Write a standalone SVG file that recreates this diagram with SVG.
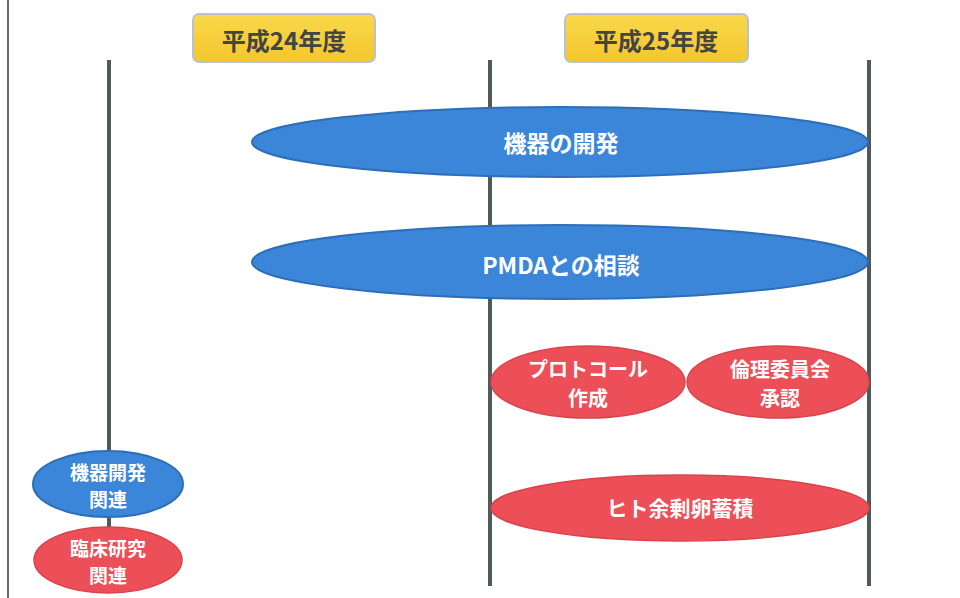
<svg xmlns="http://www.w3.org/2000/svg" width="960" height="598" viewBox="0 0 960 598">
<defs>
<linearGradient id="gy" x1="0" y1="0" x2="0" y2="1">
<stop offset="0" stop-color="#f9d84a"/>
<stop offset="1" stop-color="#f4c62e"/>
</linearGradient>
<style>
.t{font-family:"Noto Sans CJK JP","Liberation Sans",sans-serif;font-weight:bold;text-anchor:middle;dominant-baseline:central}
.w{fill:#ffffff}
.box{fill:url(#gy);stroke:#b9c3cf;stroke-width:2}
.blue{fill:#3b86d8;stroke:#2c6fb8;stroke-width:2}
.red{fill:#ec4f57;stroke:#d9434b;stroke-width:1.5}
.ln{stroke:#505a58;stroke-width:4}
</style>
</defs>
<rect width="960" height="598" fill="#ffffff"/>
<g id="connectors">
<line x1="8" y1="0" x2="8" y2="598" stroke="#6a6a6a" stroke-width="2"/>
<line class="ln" x1="109" y1="60" x2="109" y2="540"/>
<line class="ln" x1="490" y1="60" x2="490" y2="586"/>
<line class="ln" x1="869" y1="60" x2="869" y2="586"/>
</g>
<g id="year24">
<rect class="box" x="193" y="14" width="182" height="48" rx="6"/>
<text class="t" x="284" y="39" font-size="24" fill="#444444">平成24年度</text>
</g>
<g id="year25">
<rect class="box" x="565" y="14" width="183" height="48" rx="6"/>
<text class="t" x="656" y="39" font-size="24" fill="#444444">平成25年度</text>
</g>
<g id="kiki">
<ellipse class="blue" cx="560" cy="142" rx="308" ry="35"/>
<text class="t w" x="561" y="142" font-size="23">機器の開発</text>
</g>
<g id="pmda">
<ellipse class="blue" cx="560" cy="262" rx="308" ry="37"/>
<text class="t w" x="561" y="264" font-size="23">PMDAとの相談</text>
</g>
<g id="protocol">
<ellipse class="red" cx="588" cy="382" rx="97" ry="36"/>
<text class="t w" x="588" y="368" font-size="20">プロトコール</text>
<text class="t w" x="588" y="397" font-size="20">作成</text>
</g>
<g id="rinri">
<ellipse class="red" cx="778" cy="382" rx="91" ry="36"/>
<text class="t w" x="780" y="368" font-size="20">倫理委員会</text>
<text class="t w" x="780" y="397" font-size="20">承認</text>
</g>
<g id="kikikanren">
<ellipse class="blue" cx="108" cy="484" rx="75" ry="33"/>
<text class="t w" x="108" y="471" font-size="19">機器開発</text>
<text class="t w" x="108" y="498" font-size="19">関連</text>
</g>
<g id="rinsho">
<ellipse class="red" cx="108" cy="560" rx="74" ry="33"/>
<text class="t w" x="108" y="547" font-size="19">臨床研究</text>
<text class="t w" x="108" y="574" font-size="19">関連</text>
</g>
<g id="hito">
<ellipse class="red" cx="680" cy="508" rx="189" ry="33"/>
<text class="t w" x="680" y="507" font-size="21">ヒト余剰卵蓄積</text>
</g>
</svg>
